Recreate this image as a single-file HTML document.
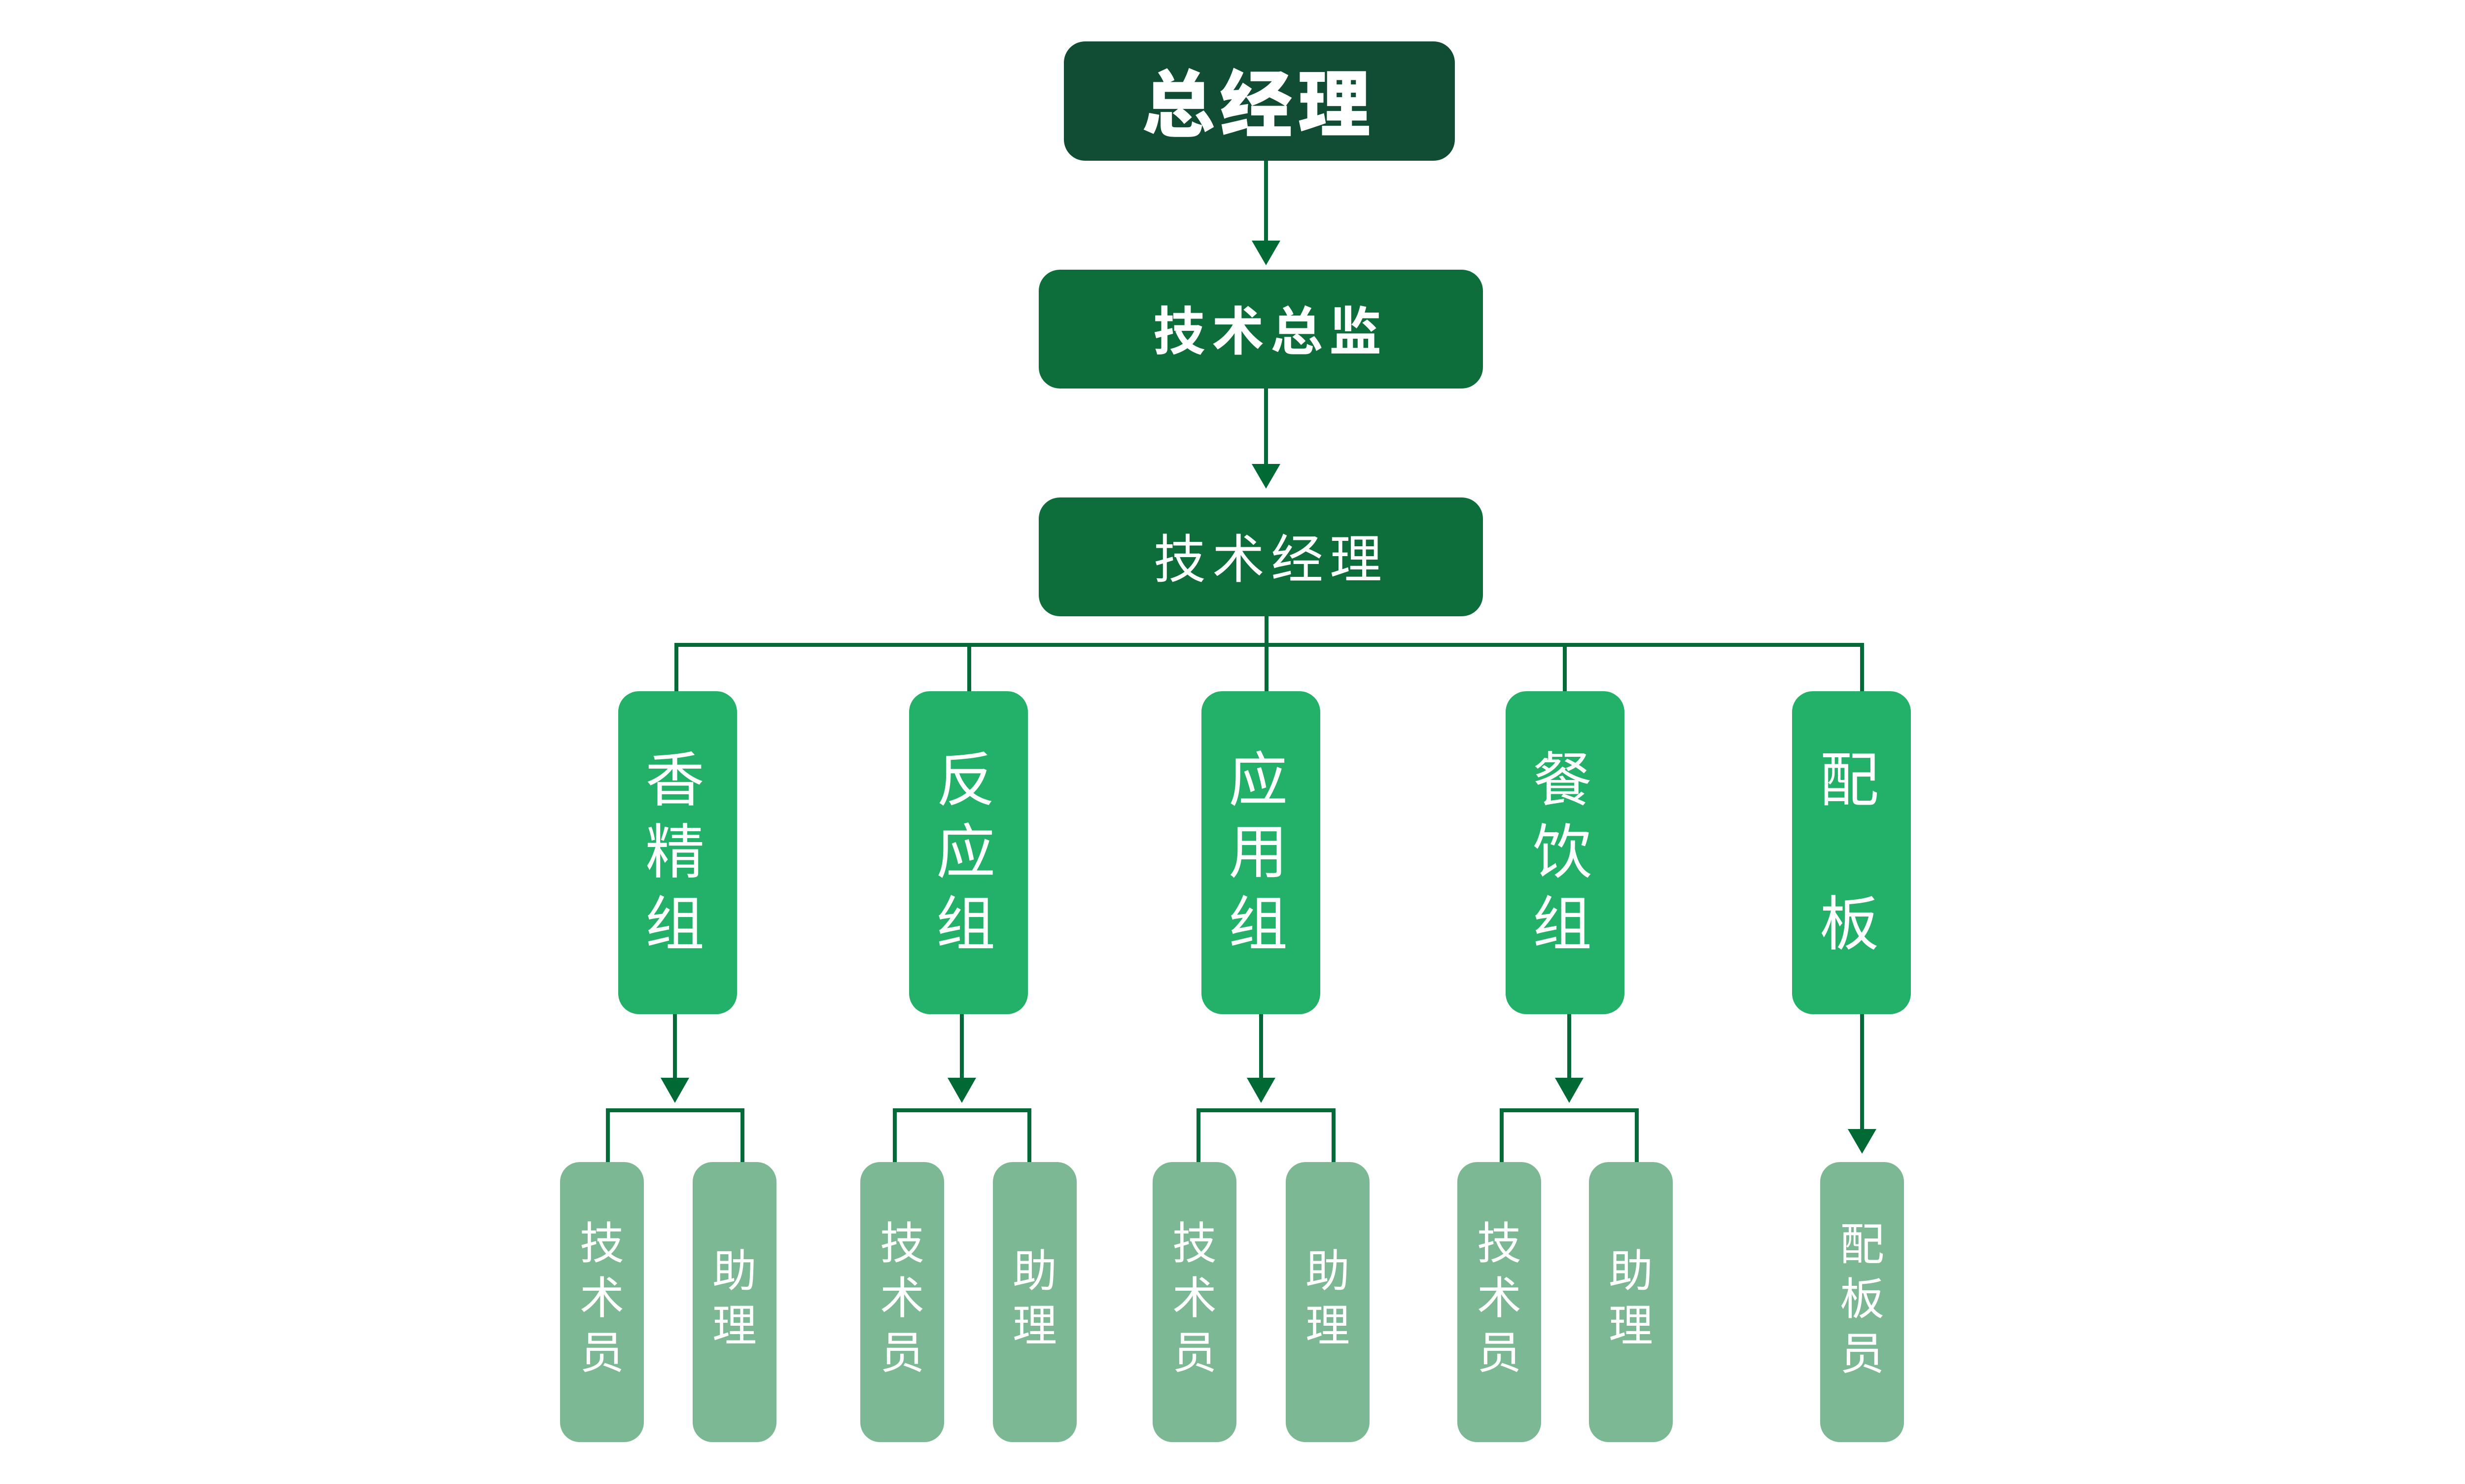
<!DOCTYPE html>
<html>
<head>
<meta charset="utf-8">
<style>
  html, body { margin:0; padding:0; }
  body { width:5014px; height:3010px; background:#ffffff; position:relative; overflow:hidden;
         font-family: "Liberation Sans", "Noto Sans CJK SC", sans-serif; }
  .box { position:absolute; box-sizing:border-box; }
  .top { background:#114d34; border-radius:43px; }
  .mid { background:#0e6e3b; border-radius:43px; }
  .l2 { background:#23b169; border-radius:42px; top:1402px; width:241px; height:655px; }
  .l3 { background:#7cb893; border-radius:40px; top:2357px; width:170px; height:568px; }
  .t { position:absolute; color:#ffffff; white-space:nowrap; font-family:"Liberation Sans","Noto Sans CJK SC",sans-serif; }
  .vt { position:absolute; color:#ffffff; text-align:center; font-family:"Liberation Sans","Noto Sans CJK SC",sans-serif; }
  .vt div { display:block; }
  .g2 { font-size:120px; line-height:146px; width:240px; top:1510px; }
  .g3 { font-size:90px; line-height:111px; width:170px; }
  svg { position:absolute; left:0; top:0; }
</style>
</head>
<body>

<!-- connectors -->
<svg width="5014" height="3010" viewBox="0 0 5014 3010">
  <g stroke="#046a37" stroke-width="8" fill="none" stroke-linejoin="miter" stroke-linecap="butt">
    <line x1="2568" y1="325" x2="2568" y2="492"/>
    <line x1="2568" y1="787" x2="2568" y2="945"/>
    <line x1="2569" y1="1249" x2="2569" y2="1403"/>
    <path d="M1372,1403 V1308 H3777 V1403"/>
    <line x1="1966" y1="1308" x2="1966" y2="1403"/>
    <line x1="3174" y1="1308" x2="3174" y2="1403"/>
    <!-- down from level 2 -->
    <line x1="1369" y1="2056" x2="1369" y2="2190"/>
    <line x1="1951" y1="2056" x2="1951" y2="2190"/>
    <line x1="2558" y1="2056" x2="2558" y2="2190"/>
    <line x1="3183" y1="2056" x2="3183" y2="2190"/>
    <line x1="3777" y1="2056" x2="3777" y2="2294"/>
    <!-- brackets -->
    <path d="M1233,2358 V2252 H1506 V2358"/>
    <path d="M1815,2358 V2252 H2088 V2358"/>
    <path d="M2431,2358 V2252 H2705 V2358"/>
    <path d="M3046,2358 V2252 H3320 V2358"/>
  </g>
  <g fill="#006934">
    <polygon points="2539,488 2597,488 2568,538"/>
    <polygon points="2539,941 2597,941 2568,991"/>
    <polygon points="1340,2186 1398,2186 1369,2237"/>
    <polygon points="1922,2186 1980,2186 1951,2237"/>
    <polygon points="2529,2186 2587,2186 2558,2237"/>
    <polygon points="3154,2186 3212,2186 3183,2237"/>
    <polygon points="3748,2290 3806,2290 3777,2340"/>
  </g>
</svg>

<!-- top level -->
<div class="box top" style="left:2158px; top:84px; width:793px; height:242px;"></div>
<div class="t" style="left:2316px; top:115px; font-size:148px; line-height:200px; font-weight:900; letter-spacing:10px;">总经理</div>

<div class="box mid" style="left:2107px; top:547px; width:901px; height:241px;"></div>
<div class="t" style="left:2339px; top:624px; font-size:106px; line-height:100px; font-weight:700; letter-spacing:13px;">技术总监</div>

<div class="box mid" style="left:2107px; top:1009px; width:901px; height:241px;"></div>
<div class="t" style="left:2340px; top:1086px; font-size:106px; line-height:100px; font-weight:400; letter-spacing:13px;">技术经理</div>

<!-- level 2 -->
<div class="box l2" style="left:1254px;"></div>
<div class="vt g2" style="left:1249px;"><div>香</div><div>精</div><div>组</div></div>

<div class="box l2" style="left:1844px;"></div>
<div class="vt g2" style="left:1839px;"><div>反</div><div>应</div><div>组</div></div>

<div class="box l2" style="left:2437px;"></div>
<div class="vt g2" style="left:2432px;"><div>应</div><div>用</div><div>组</div></div>

<div class="box l2" style="left:3054px;"></div>
<div class="vt g2" style="left:3049px;"><div>餐</div><div>饮</div><div>组</div></div>

<div class="box l2" style="left:3635px;"></div>
<div class="vt g2" style="left:3631px;"><div>配</div><div>&nbsp;</div><div>板</div></div>

<!-- level 3 -->
<div class="box l3" style="left:1136px;"></div>
<div class="vt g3" style="left:1136px; top:2468px;"><div>技</div><div>术</div><div>员</div></div>
<div class="box l3" style="left:1405px;"></div>
<div class="vt g3" style="left:1405px; top:2524px;"><div>助</div><div>理</div></div>

<div class="box l3" style="left:1745px;"></div>
<div class="vt g3" style="left:1745px; top:2468px;"><div>技</div><div>术</div><div>员</div></div>
<div class="box l3" style="left:2014px;"></div>
<div class="vt g3" style="left:2014px; top:2524px;"><div>助</div><div>理</div></div>

<div class="box l3" style="left:2338px;"></div>
<div class="vt g3" style="left:2338px; top:2468px;"><div>技</div><div>术</div><div>员</div></div>
<div class="box l3" style="left:2608px;"></div>
<div class="vt g3" style="left:2608px; top:2524px;"><div>助</div><div>理</div></div>

<div class="box l3" style="left:2956px;"></div>
<div class="vt g3" style="left:2956px; top:2468px;"><div>技</div><div>术</div><div>员</div></div>
<div class="box l3" style="left:3223px;"></div>
<div class="vt g3" style="left:3223px; top:2524px;"><div>助</div><div>理</div></div>

<div class="box l3" style="left:3692px;"></div>
<div class="vt g3" style="left:3692px; top:2470px;"><div>配</div><div>板</div><div>员</div></div>

</body>
</html>
